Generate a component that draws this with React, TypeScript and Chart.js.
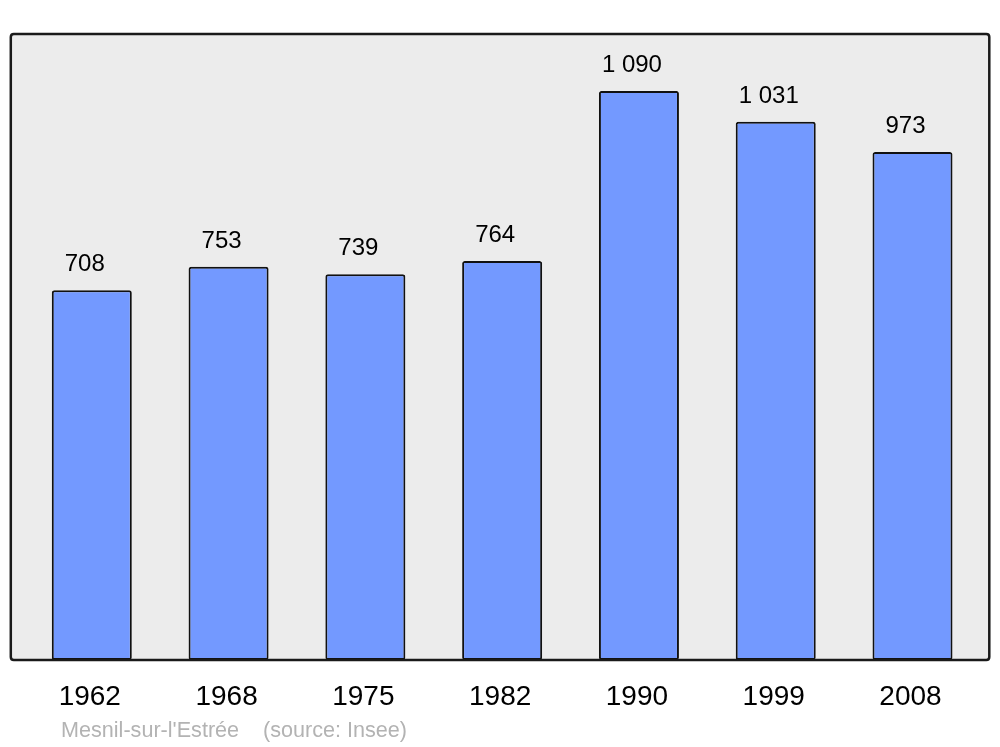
import React, { useEffect, useRef } from "react";
import { Chart, registerables } from "chart.js";

Chart.register(...registerables);

const years = ["1962", "1968", "1975", "1982", "1990", "1999", "2008"];
const population = [708, 753, 739, 764, 1090, 1031, 973];
const valueLabels = ["708", "753", "739", "764", "1 090", "1 031", "973"];
const placeName = "Mesnil-sur-l'Estrée";
const sourceText = "(source: Insee)";

const FONT = "'Liberation Sans', Arial, sans-serif";

function roundRect(ctx: CanvasRenderingContext2D, x: number, y: number, w: number, h: number, r: number) {
  ctx.beginPath();
  ctx.moveTo(x + r, y);
  ctx.lineTo(x + w - r, y);
  ctx.quadraticCurveTo(x + w, y, x + w, y + r);
  ctx.lineTo(x + w, y + h - r);
  ctx.quadraticCurveTo(x + w, y + h, x + w - r, y + h);
  ctx.lineTo(x + r, y + h);
  ctx.quadraticCurveTo(x, y + h, x, y + h - r);
  ctx.lineTo(x, y + r);
  ctx.quadraticCurveTo(x, y, x + r, y);
  ctx.closePath();
}

const framePlugin = {
  id: "frame",
  beforeDatasetsDraw(chart: any) {
    const { ctx, chartArea } = chart;
    const x0 = chartArea.left - 12.6;
    const x1 = chartArea.right + 8.4;
    const y0 = chartArea.top;
    const y1 = chartArea.bottom;
    ctx.save();
    roundRect(ctx, x0, y0, x1 - x0, y1 - y0, 3);
    ctx.fillStyle = "#ececec";
    ctx.fill();
    ctx.restore();
  },
  afterDatasetsDraw(chart: any) {
    const { ctx, chartArea } = chart;
    const x0 = chartArea.left - 12.6;
    const x1 = chartArea.right + 8.4;
    const y0 = chartArea.top;
    const y1 = chartArea.bottom;
    ctx.save();
    roundRect(ctx, x0, y0, x1 - x0, y1 - y0, 3);
    ctx.lineWidth = 2.5;
    ctx.strokeStyle = "#1a1a1a";
    ctx.stroke();

    const xScale = chart.scales.x;
    const yScale = chart.scales.y;
    ctx.fillStyle = "#000";
    ctx.textAlign = "center";
    ctx.textBaseline = "alphabetic";
    ctx.font = `24px ${FONT}`;
    population.forEach((v, i) => {
      const px = xScale.getPixelForValue(i);
      const py = yScale.getPixelForValue(v);
      ctx.fillText(valueLabels[i], px - 7, py - 19);
    });
    ctx.font = `28px ${FONT}`;
    years.forEach((y, i) => {
      const px = xScale.getPixelForValue(i);
      ctx.fillText(y, px - 2, chartArea.bottom + 45);
    });
    ctx.font = `21.6px ${FONT}`;
    ctx.fillStyle = "#b3b3b3";
    ctx.textAlign = "left";
    ctx.fillText(placeName, 61, chartArea.bottom + 77);
    ctx.fillText(sourceText, 263, chartArea.bottom + 77);
    ctx.restore();
  },
};

export default function App() {
  const ref = useRef<HTMLCanvasElement | null>(null);
  useEffect(() => {
    if (!ref.current) return;
    const chart = new Chart(ref.current, {
      type: "bar",
      data: {
        labels: years,
        datasets: [
          {
            data: population,
            backgroundColor: "#7399ff",
            borderColor: "#111",
            borderWidth: 2,
            borderRadius: 2.5,
            borderSkipped: false,
            barPercentage: 0.585,
            categoryPercentage: 1,
          },
        ],
      },
      options: {
        responsive: false,
        animation: false,
        layout: { padding: { left: 23.4, right: 19.1, top: 34, bottom: 87 } },
        plugins: { legend: { display: false }, tooltip: { enabled: false }, title: { display: false } },
        scales: {
          x: { display: false, offset: true },
          y: { display: false, min: 0, max: 1199 },
        },
      },
      plugins: [framePlugin],
    });
    return () => chart.destroy();
  }, []);
  return (
    <div style={{ position: "absolute", left: 0, top: 0, width: 1000, height: 747, background: "#fff" }}>
      <canvas ref={ref} width={1000} height={747} />
    </div>
  );
}
